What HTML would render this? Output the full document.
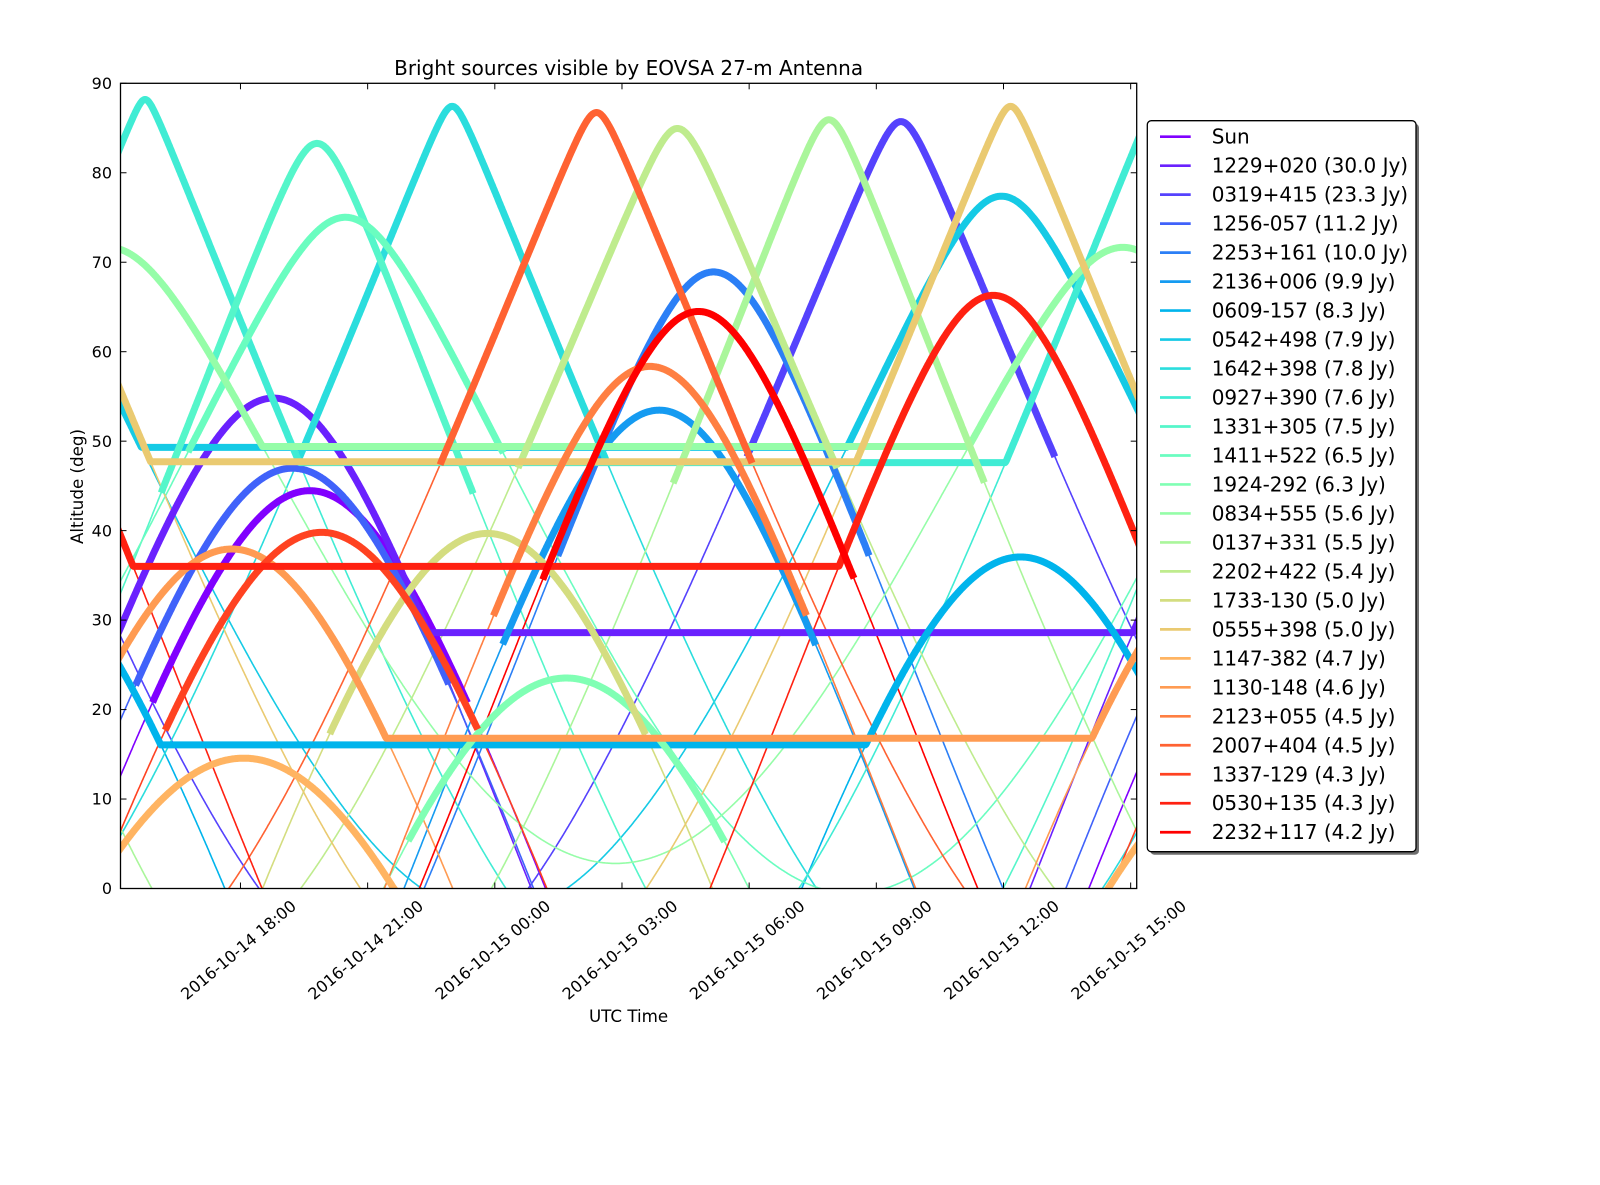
<!DOCTYPE html>
<html><head><meta charset="utf-8"><style>
html,body{margin:0;padding:0;background:#fff;width:1600px;height:1185px;overflow:hidden;}
svg{display:block;font-family:"DejaVu Sans","Liberation Sans",sans-serif;}
</style></head><body>
<svg id="s" width="1600" height="1185" viewBox="0 0 1600 1185" xmlns="http://www.w3.org/2000/svg">
<defs><clipPath id="cp"><rect x="120.5" y="83.3" width="1016.2" height="805.2"/></clipPath></defs>
<rect width="1600" height="1185" fill="#fff"/>
<g id="plot" clip-path="url(#cp)"></g>
<rect x="120.5" y="83.3" width="1016.2" height="805.2" fill="none" stroke="#000" stroke-width="1.3"/>
<g id="ticks" stroke="#000" stroke-width="1"></g>
<g font-size="16" fill="#000" text-anchor="end" dominant-baseline="central">
<text x="112" y="888.5">0</text><text x="112" y="799.1">10</text><text x="112" y="709.6">20</text>
<text x="112" y="620.2">30</text><text x="112" y="530.8">40</text><text x="112" y="441.3">50</text>
<text x="112" y="351.9">60</text><text x="112" y="262.5">70</text><text x="112" y="173">80</text>
<text x="112" y="83.6">90</text>
</g>
<g font-size="16" fill="#000" text-anchor="middle" dominant-baseline="central">
<text x="238.5" y="950" transform="rotate(-40 238.5 950)">2016-10-14 18:00</text>
<text x="365.7" y="950" transform="rotate(-40 365.7 950)">2016-10-14 21:00</text>
<text x="492.8" y="950" transform="rotate(-40 492.8 950)">2016-10-15 00:00</text>
<text x="620" y="950" transform="rotate(-40 620 950)">2016-10-15 03:00</text>
<text x="747.2" y="950" transform="rotate(-40 747.2 950)">2016-10-15 06:00</text>
<text x="874.3" y="950" transform="rotate(-40 874.3 950)">2016-10-15 09:00</text>
<text x="1001.5" y="950" transform="rotate(-40 1001.5 950)">2016-10-15 12:00</text>
<text x="1128.7" y="950" transform="rotate(-40 1128.7 950)">2016-10-15 15:00</text>
</g>
<text x="628.6" y="75" font-size="20" text-anchor="middle" textLength="469" lengthAdjust="spacingAndGlyphs">Bright sources visible by EOVSA 27-m Antenna</text>
<text x="628.6" y="1022" font-size="16.7" text-anchor="middle">UTC Time</text>
<text x="0" y="0" font-size="16.7" text-anchor="middle" dominant-baseline="central" transform="translate(77 486.5) rotate(-90)">Altitude (deg)</text>
<rect x="1150.3" y="123.7" width="268.7" height="731" rx="4" fill="#555" opacity="0.85"/>
<rect x="1147.3" y="120.7" width="268.7" height="731" rx="4" fill="#fff" stroke="#000" stroke-width="1.3"/>
<g id="leg" font-size="20" dominant-baseline="central" fill="#000">
<text x="1211.7" y="136.7">Sun</text>
<text x="1211.7" y="165.7">1229+020 (30.0 Jy)</text>
<text x="1211.7" y="194.7">0319+415 (23.3 Jy)</text>
<text x="1211.7" y="223.6">1256-057 (11.2 Jy)</text>
<text x="1211.7" y="252.6">2253+161 (10.0 Jy)</text>
<text x="1211.7" y="281.6">2136+006 (9.9 Jy)</text>
<text x="1211.7" y="310.6">0609-157 (8.3 Jy)</text>
<text x="1211.7" y="339.6">0542+498 (7.9 Jy)</text>
<text x="1211.7" y="368.5">1642+398 (7.8 Jy)</text>
<text x="1211.7" y="397.5">0927+390 (7.6 Jy)</text>
<text x="1211.7" y="426.5">1331+305 (7.5 Jy)</text>
<text x="1211.7" y="455.5">1411+522 (6.5 Jy)</text>
<text x="1211.7" y="484.5">1924-292 (6.3 Jy)</text>
<text x="1211.7" y="513.4">0834+555 (5.6 Jy)</text>
<text x="1211.7" y="542.4">0137+331 (5.5 Jy)</text>
<text x="1211.7" y="571.4">2202+422 (5.4 Jy)</text>
<text x="1211.7" y="600.4">1733-130 (5.0 Jy)</text>
<text x="1211.7" y="629.4">0555+398 (5.0 Jy)</text>
<text x="1211.7" y="658.3">1147-382 (4.7 Jy)</text>
<text x="1211.7" y="687.3">1130-148 (4.6 Jy)</text>
<text x="1211.7" y="716.3">2123+055 (4.5 Jy)</text>
<text x="1211.7" y="745.3">2007+404 (4.5 Jy)</text>
<text x="1211.7" y="774.3">1337-129 (4.3 Jy)</text>
<text x="1211.7" y="803.2">0530+135 (4.3 Jy)</text>
<text x="1211.7" y="832.2">2232+117 (4.2 Jy)</text>
</g>
<g id="legl"></g>
</svg>
<script>
(function(){
var NS="http://www.w3.org/2000/svg";
var src=[
[13.35,-8.3,'s',21],
[12.485,2.05,'f',28.6],
[3.33,41.51,'s',48.5],
[12.936,-5.79,'s',23],
[22.899,16.15,'s',37.5],
[21.611,0.70,'s',27.5],
[6.161,-15.71,'f',16.05],
[5.710,49.85,'f',49.3],
[16.716,39.81,'s',48],
[9.451,39.04,'f',47.6],
[13.519,30.51,'s',44.5],
[14.189,52.21,'s',49],
[19.414,-29.24,'s',5.5],
[8.582,55.57,'f',49.4],
[1.628,33.16,'s',45.5],
[22.045,42.28,'s',47.3],
[17.551,-13.08,'s',17.5],
[5.925,39.81,'f',47.7],
[11.784,-38.2,'s',0],
[11.502,-14.82,'f',16.8],
[21.396,5.59,'s',30.8],
[20.129,40.50,'s',47.7],
[13.628,-12.96,'s',18],
[5.516,13.53,'f',36.0],
[22.543,11.73,'s',34.8]];
function col(i){var v=i/24;var r=Math.min(1,Math.abs(2*v-0.5)),g=Math.sin(Math.PI*v),b=Math.cos(Math.PI*v/2);
return 'rgb('+Math.round(r*255)+','+Math.round(g*255)+','+Math.round(b*255)+')';}
var D=Math.PI/180,lat=37.233*D;
function alt(t,ra,dec){var lst=3.33+1.0027*(t-18.58);var H=(lst-ra)*15*D;dec*=D;
var s=Math.sin(lat)*Math.sin(dec)+Math.cos(lat)*Math.cos(dec)*Math.cos(H);return Math.asin(s)/D;}
function X(t){return 113.3+42.39*t;}function Y(a){return 888.5-a*8.9467;}
var plot=document.getElementById('plot');
function pl(pts,c,w){if(pts.length<2)return;var p=document.createElementNS(NS,'polyline');
p.setAttribute('points',pts.join(' '));p.setAttribute('fill','none');p.setAttribute('stroke',c);
p.setAttribute('stroke-width',w);p.setAttribute('stroke-linejoin','round');p.setAttribute('stroke-linecap','square');plot.appendChild(p);}
var t0=0.10,t1=24.25,dt=0.02;
for(var i=0;i<src.length;i++){var s=src[i],pts=[];
for(var t=t0;t<=t1;t+=dt){pts.push(X(t).toFixed(1)+','+Y(alt(t,s[0],s[1])).toFixed(1));}
pl(pts,col(i),1.6);}
for(var i=0;i<src.length;i++){var s=src[i],c=col(i);
if(s[2]=='f'){var pts=[];for(var t=t0;t<=t1;t+=dt){var a=Math.max(alt(t,s[0],s[1]),s[3]);pts.push(X(t).toFixed(1)+','+Y(a).toFixed(1));}pl(pts,c,7);}
else{var run=[];for(var t=t0;t<=t1;t+=dt){var a=alt(t,s[0],s[1]);
if(a>=s[3]){run.push(X(t).toFixed(1)+','+Y(a).toFixed(1));}else{if(run.length)pl(run,c,7);run=[];}}
if(run.length)pl(run,c,7);}}
var tk=document.getElementById('ticks');
function ln(x1,y1,x2,y2,g,c,w){var l=document.createElementNS(NS,'line');l.setAttribute('x1',x1);l.setAttribute('y1',y1);l.setAttribute('x2',x2);l.setAttribute('y2',y2);if(c){l.setAttribute('stroke',c);l.setAttribute('stroke-width',w);}g.appendChild(l);}
for(var k=1;k<=8;k++){var x=X(3*k);ln(x,888.5,x,882.5,tk);ln(x,83.3,x,89.3,tk);}
for(var a=0;a<=90;a+=10){var y=Y(a);ln(120.5,y,126.5,y,tk);ln(1136.7,y,1130.7,y,tk);}
var lg=document.getElementById('legl');
for(var i=0;i<25;i++){var y=136.7+28.98*i;ln(1160,y,1190.7,y,lg,col(i),2.7);}
})();
</script>
</body></html>
